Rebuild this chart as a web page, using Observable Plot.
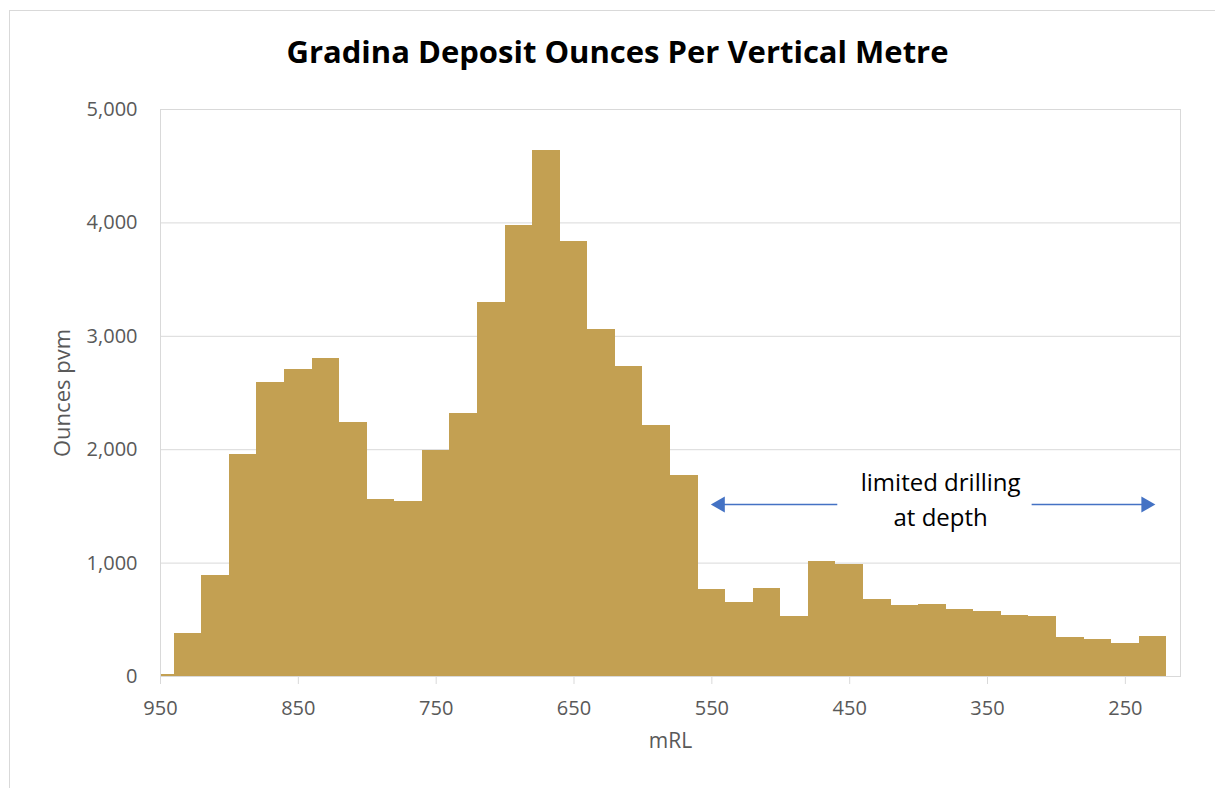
<!DOCTYPE html>
<html>
<head>
<meta charset="utf-8">
<script src="https://cdn.jsdelivr.net/npm/d3@7"></script>
<script src="https://cdn.jsdelivr.net/npm/@observablehq/plot@0.6"></script>
<style>
  html, body { margin: 0; padding: 0; overflow: hidden; background: #fff; width: 1215px; height: 788px; }
  #wrap { position: relative; width: 1215px; height: 788px; }
  #border { position: absolute; left: 9px; top: 10px; width: 1230px; height: 800px; border: 1px solid #d9d9d9; box-sizing: border-box; }
  #chart { position: absolute; left: 0; top: 0; }
  #title { position: absolute; left: 0; top: 33px; width: 1235px; text-align: center;
           font-family: "Open Sans", sans-serif; font-weight: bold; font-size: 31px; color: #000; line-height: 1.2; margin: 0; }
</style>
</head>
<body>
<div id="wrap">
  <div id="border"></div>
  <div id="chart"></div>
  <h1 id="title">Gradina Deposit Ounces Per Vertical Metre</h1>
</div>
<script>
// Category centres (mRL), 20 m bins
const mRL = [950, 930, 910, 890, 870, 850, 830, 810, 790, 770, 750, 730, 710, 690, 670, 650, 630, 610, 590, 570,
             550, 530, 510, 490, 470, 450, 430, 410, 390, 370, 350, 330, 310, 290, 270, 250, 230];
// Ounces per vertical metre
const ounces = [15, 380, 890, 1960, 2590, 2710, 2800, 2240, 1565, 1545, 1995, 2320, 3300, 3975, 4640, 3840, 3060, 2730, 2215, 1775,
                770, 655, 775, 530, 1015, 985, 680, 625, 635, 595, 575, 540, 525, 345, 325, 290, 350];
const binWidth = 20;
const xTicks = [950, 850, 750, 650, 550, 450, 350, 250];
const yTicks = [0, 1000, 2000, 3000, 4000, 5000];

// Annotation
const noteLines = ["limited drilling", "at depth"];
const noteX = 384;
const noteY = [1700, 1392];
const arrowY = 1517;
const arrowShafts = [{from: 459, to: 544}, {from: 318, to: 235}];
const arrowHeads = [{x: 544, dir: -90}, {x: 235, dir: 90}];

const data = mRL.map((rl, i) => ({rl, oz: ounces[i]}));
const notes = noteLines.map((t, i) => ({t, y: noteY[i]}));

const gold = "#C3A052";
const grey = "#d9d9d9";
const blue = "#4472C4";

const chart = Plot.plot({
  width: 1215,
  height: 788,
  marginLeft: 160,
  marginRight: 35,
  marginTop: 109,
  marginBottom: 112,
  style: {fontFamily: "Open Sans, sans-serif", fontSize: "20px", color: "#595959", background: "transparent"},
  x: {type: "linear", domain: [950, 210]},
  y: {domain: [0, 5000]},
  marks: [
    Plot.gridY(yTicks, {stroke: grey, strokeOpacity: 1}),
    Plot.rectY(data, {x1: d => d.rl + binWidth / 2, x2: d => d.rl - binWidth / 2, y: "oz", fill: gold, clip: true, shapeRendering: "crispEdges"}),
    Plot.frame({stroke: grey}),
    Plot.axisY(yTicks, {tickSize: 0, tickPadding: 23, tickFormat: d3.format(","), label: null, fill: "#595959"}),
    Plot.axisX(xTicks, {tickSize: 8, tickPadding: 16, stroke: grey, fill: "#595959", label: null, tickFormat: d => String(d)}),
    Plot.text(["Ounces pvm"], {frameAnchor: "left", textAnchor: "middle", dx: -98, rotate: -90, fontSize: 22, fill: "#595959"}),
    Plot.text(["mRL"], {frameAnchor: "bottom", dy: 71, fontSize: 21, fill: "#595959"}),
    Plot.text(notes, {x: () => noteX, y: "y", text: "t", fontSize: 24, fill: "#000"}),
    Plot.link(arrowShafts, {x1: "from", x2: "to", y1: () => arrowY, y2: () => arrowY, stroke: blue, strokeWidth: 1.5}),
    Plot.dot(arrowHeads, {x: "x", y: () => arrowY, symbol: "triangle", r: 6, fill: blue, stroke: "none", rotate: "dir"})
  ]
});
document.getElementById("chart").appendChild(chart);
</script>
</body>
</html>
